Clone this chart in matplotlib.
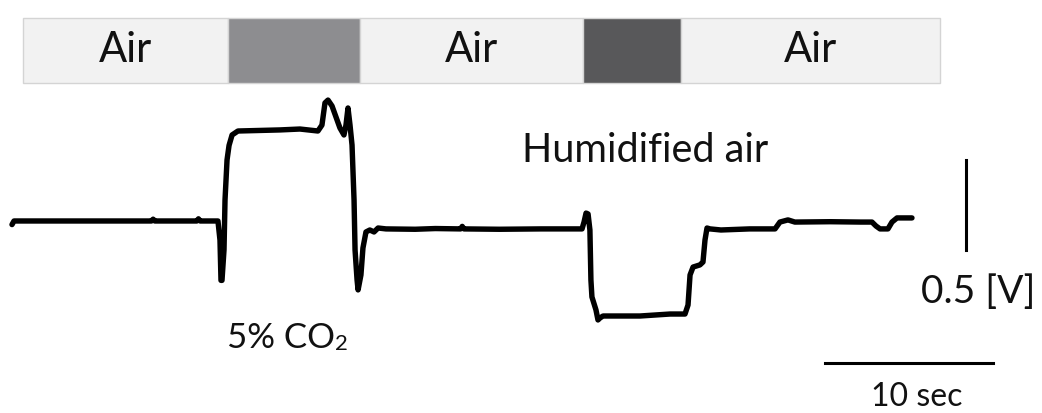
import matplotlib
matplotlib.use("Agg")
import matplotlib.pyplot as plt
from matplotlib.patches import Rectangle

plt.rcParams['font.family'] = ['Lato', 'DejaVu Sans']

# Gas condition bar (seconds)
seg_labels = ["Air", "", "Air", "", "Air"]
seg_starts = [0.65, 12.86, 20.71, 33.99, 39.82]
seg_ends = [12.86, 20.71, 33.99, 39.82, 55.24]
seg_colors = ["#f2f2f2", "#8d8d90", "#f2f2f2", "#58585a", "#f2f2f2"]

# Sensor trace: time [s], signal [V] relative to baseline
time_s = [0.0, 0.12, 2.7, 5.0, 8.3, 8.4, 8.5, 11.0, 11.1, 11.2, 12.26, 12.38, 12.44, 12.5,
          12.62, 12.68, 12.80, 12.92, 13.1, 13.45, 15.95, 17.14, 18.21, 18.45, 18.63,
          18.81, 19.05, 19.52, 19.76, 19.88, 20.0, 20.12, 20.24, 20.36, 20.42, 20.54,
          20.6, 20.77, 20.89, 21.07, 21.3, 21.55, 21.79, 22.26, 24.0, 25.2, 26.7, 26.8,
          26.9, 29.0, 31.5, 33.93, 34.05, 34.17, 34.29, 34.4, 34.46, 34.52, 34.76, 34.88,
          35.0, 35.18, 37.38, 39.17, 40.06, 40.24, 40.36, 40.54, 40.95, 41.13, 41.25,
          41.37, 41.55, 42.2, 43.9, 45.42, 45.71, 46.19, 46.6, 48.7, 50.5, 51.19, 51.43,
          51.67, 52.14, 52.38, 52.68, 53.57]
signal_v = [-0.02, 0.0, 0.0, 0.0, 0.0, 0.01, 0.0, 0.0, 0.012, 0.0, 0.0, -0.106, -0.33, -0.33,
            -0.16, 0.117, 0.339, 0.42, 0.478, 0.5, 0.506, 0.511, 0.5, 0.533, 0.656,
            0.672, 0.639, 0.517, 0.478, 0.533, 0.628, 0.533, 0.422, 0.117, -0.161, -0.328,
            -0.383, -0.3, -0.15, -0.061, -0.05, -0.061, -0.039, -0.044, -0.046, -0.042, -0.044, -0.03,
            -0.044, -0.046, -0.044, -0.044, -0.006, 0.044, 0.039, -0.05, -0.328, -0.422, -0.494, -0.55,
            -0.539, -0.528, -0.528, -0.517, -0.517, -0.467, -0.3, -0.256, -0.244, -0.228, -0.106,
            -0.039, -0.044, -0.05, -0.044, -0.044, -0.006, 0.006, -0.006, -0.004, -0.006, -0.006, -0.028,
            -0.044, -0.044, -0.006, 0.017, 0.017]

# Scale bars
time_bar_s = 10
volt_bar_v = 0.5

fig = plt.figure(figsize=(10.42, 4.13), dpi=100)
ax = fig.add_axes([0, 0, 1, 1])
ax.set_xlim(-0.714, 61.31)
ax.set_ylim(-1.067, 1.228)
ax.axis('off')

bar_y0, bar_y1 = 0.767, 1.128
for lab, s, e, c in zip(seg_labels, seg_starts, seg_ends, seg_colors):
    ax.add_patch(Rectangle((s, bar_y0), e - s, bar_y1 - bar_y0, facecolor=c,
                           edgecolor='#d4d4d4', linewidth=1.0))
    if lab:
        ax.text((s + e) / 2, 0.883, lab, ha='center', va='baseline', fontsize=30, color='#111111')

ax.plot(time_s, signal_v, color='black', lw=3.9, solid_joinstyle='round', solid_capstyle='round')

# scale bars
hx0 = 48.39
ax.plot([hx0, hx0 + time_bar_s], [-0.789, -0.789], color='black', lw=2.2)
ax.plot([56.79, 56.79], [-0.161, -0.161 + volt_bar_v], color='black', lw=2.2)

ax.text(53.84, -1.028, "10 sec", ha='center', va='baseline', fontsize=23, color='#111111')
ax.text(57.5, -0.456, "0.5 [V]", ha='center', va='baseline', fontsize=28, color='#111111')
ax.text(30.36, 0.328, "Humidified air", ha='left', va='baseline', fontsize=28.5, color='#111111')
ax.text(12.8, -0.706, "5% CO", ha='left', va='baseline', fontsize=25, color='#111111')
ax.annotate("2", xy=(12.8, -0.706), xytext=(108, -2), textcoords='offset pixels',
            ha='left', va='baseline', fontsize=16, color='#111111')

fig.savefig("out.png", dpi=100)
